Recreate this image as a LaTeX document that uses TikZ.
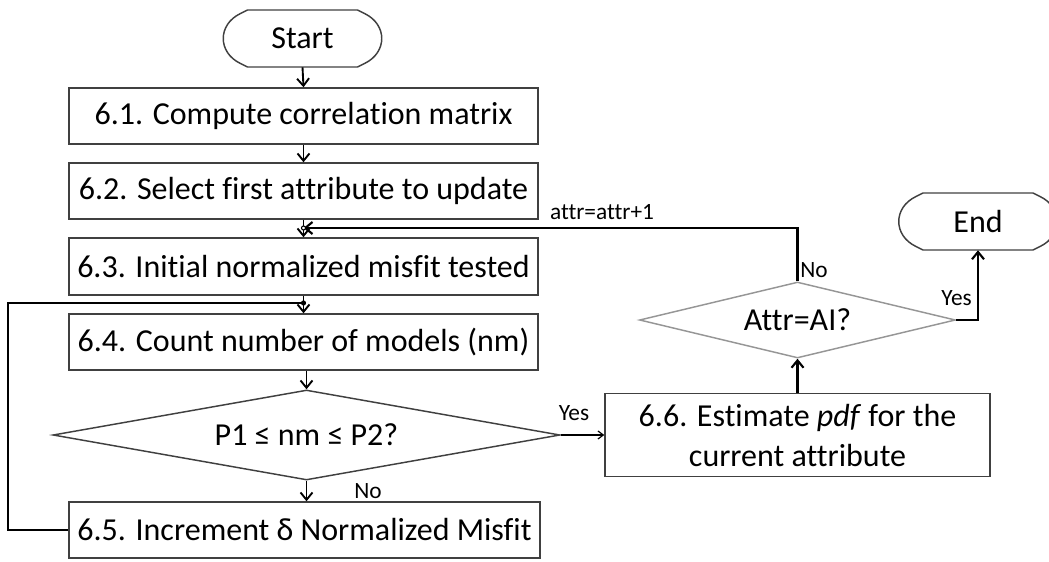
\documentclass[tikz,border=0pt]{standalone}
\usepackage{xcolor}
\usepackage{fontspec}
\setmainfont{Carlito}[Ligatures=NoCommon]
\usepackage{tikz}
\usetikzlibrary{arrows.meta,shapes.geometric}

\definecolor{boxgray}{RGB}{64,64,64}
\definecolor{thingray}{RGB}{150,150,150}

\tikzset{
  procbox/.style 2 args={draw=boxgray, line width=1.1, minimum width=#1*0.75pt, minimum height=#2*0.75pt, inner sep=0pt, align=center, font=\fontsize{24}{30}\selectfont},
  termbox/.style={minimum width=161*0.75pt, minimum height=57*0.75pt, inner sep=0pt, font=\fontsize{24}{30}\selectfont},
  decbox/.style n args={4}{diamond, draw=#3, line width=1.1, minimum width=#1*0.75pt, minimum height=#2*0.75pt, aspect=#4, inner sep=0pt, font=\fontsize{24}{30}\selectfont},
  smalltext/.style={inner sep=0.75pt, font=\fontsize{17.5}{21}\selectfont},
  shortarrow/.style={black, line width=1.4, -{Straight Barb[length=5.5pt,width=9pt,line width=1.4]}},
  thinarrow/.style={black, line width=0.9, -{Straight Barb[length=4pt,width=6pt,line width=0.9]}},
  loopline/.style={black, line width=2},
  looparrow/.style={black, line width=2, -{Straight Barb[length=5.5pt,width=9pt,line width=1.6]}},
}

\newcommand{\termoutline}[1]{%
  \draw[boxgray, line width=1.1, shift={(#1.center)}] (-55,-28.5) -- (55,-28.5) -- (62,-25) .. controls (85,-14) and (85,14) .. (62,25) -- (55,28.5) -- (-55,28.5) -- (-62,25) .. controls (-85,14) and (-85,-14) .. (-62,-25) -- cycle ;}

\begin{document}
\begin{tikzpicture}[x=0.75pt,y=0.75pt,yscale=-1,xscale=1]
\useasboundingbox (0,0) rectangle (1049,561);

%Shape: Terminal [id:start]
\node[termbox] (start) at (302.5,38.5) {Start};
\termoutline{start}
%Shape: Rectangle [id:b61]
\node[procbox={469}{56}] (b61) at (303.5,116) {6.1. Compute correlation matrix};
%Shape: Rectangle [id:b62]
\node[procbox={469}{56}] (b62) at (303.5,191) {6.2. Select first attribute to update};
%Shape: Rectangle [id:b63]
\node[procbox={469}{57}] (b63) at (303.5,266.5) {6.3. Initial normalized misfit tested};
%Shape: Rectangle [id:b64]
\node[procbox={469}{56}] (b64) at (303.5,342) {6.4. Count number of models (nm)};
%Shape: Diamond [id:d1]
\node[decbox={507}{90}{boxgray}{5.6}] (d1) at (306.5,435) {P1 ≤ nm ≤ P2?};
%Shape: Rectangle [id:b65]
\node[procbox={471}{56}] (b65) at (304.5,530) {6.5. Increment δ Normalized Misfit};
%Shape: Rectangle [id:b66]
\node[procbox={385}{83}] (b66) at (797.5,435) {6.6. Estimate \textit{pdf} for the\\current attribute};
%Shape: Diamond [id:d2]
\node[decbox={316}{76}{thingray}{4.2}] (d2) at (797.5,320) {Attr=AI?};
%Shape: Terminal [id:end]
\node[termbox] (end) at (978,221.5) {End};
\termoutline{end}

%Junctions
\coordinate (j1) at (303.5,228);
\coordinate (j2) at (303.5,303);
\coordinate (lp) at (8,530);

%Straight Lines
\draw[shortarrow] (start.south) -- (b61.north);
\draw[shortarrow] (b61.south) -- (b62.north);
\draw[shortarrow] (b62.south) -- (b63.north);
\draw[shortarrow] (b63.south) -- (b64.north);
\draw[shortarrow] (d1.north |- b64.south) -- (d1.north);
\draw[shortarrow] (d1.south) -- (d1.south |- b65.north);
\draw[thinarrow] (d1.east) -- (b66.west);
\draw[looparrow] (b66.north) -- (d2.south);
\draw[looparrow] (d2.east) -| (end.south);
\draw[looparrow] (d2.north) |- (j1);
\draw[loopline] (b65.west) -- (lp) |- (j2);
\draw[black, line width=0.8, fill=white] (j1) circle (2);
\draw[black, line width=0.8, fill=black] (j2) circle (2);

% Text Node
\node[smalltext] (lblattr) at (602,212) {attr=attr+1};
% Text Node
\node[smalltext, anchor=west] (lblno2) at (799,270) {No};
% Text Node
\node[smalltext, anchor=east] (lblyes2) at (973,298) {Yes};
% Text Node
\node[smalltext] (lblyes1) at (574,413) {Yes};
% Text Node
\node[smalltext] (lblno1) at (368,491) {No};

\end{tikzpicture}
\end{document}
